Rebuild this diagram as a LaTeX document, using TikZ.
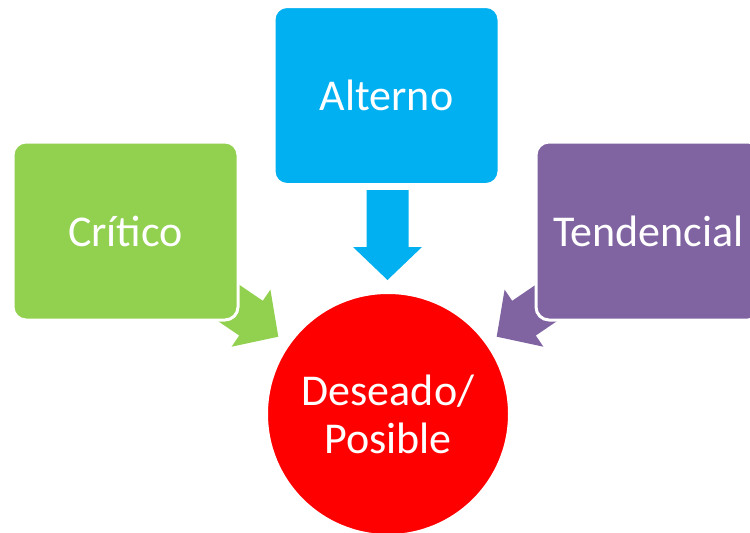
\documentclass[tikz,border=0pt]{standalone}
\usepackage{fontspec}
\setmainfont{Carlito}
\definecolor{cgreen}{HTML}{92D050}
\definecolor{cblue}{HTML}{00B0F0}
\definecolor{cpurple}{HTML}{8064A2}
\definecolor{cred}{HTML}{FF0000}
\begin{document}
\begin{tikzpicture}[x=1pt,y=-1pt,
  box/.style={draw=white, line width=3pt, rounded corners=13pt, minimum width=225pt, minimum height=178pt, inner sep=0pt, text=white, font=\fontsize{44}{48}\selectfont},
  blockarrow/.style={fill=#1, draw=none}]
\clip (0,0) rectangle (750,533);
\fill[white] (0,0) rectangle (750,533);
% arrows (drawn behind boxes)
\begin{scope}[shift={(387.5,280)}, rotate=-90]
  \coordinate (tipA) at (0,0);
  \fill[cblue] (tipA) -- (-33,34.5) -- (-33,21) -- (-90,21) -- (-90,-21) -- (-33,-21) -- (-33,-34.5) -- cycle;
\end{scope}
\begin{scope}[shift={(278.3,336.7)}, rotate=-34.2]
  \coordinate (tipC) at (0,0);
  \fill[cgreen] (tipC) -- (-33,34.5) -- (-33,21) -- (-90,21) -- (-90,-21) -- (-33,-21) -- (-33,-34.5) -- cycle;
\end{scope}
\begin{scope}[shift={(496.7,336.7)}, rotate=-145.8]
  \coordinate (tipT) at (0,0);
  \fill[cpurple] (tipT) -- (-33,34.5) -- (-33,21) -- (-90,21) -- (-90,-21) -- (-33,-21) -- (-33,-34.5) -- cycle;
\end{scope}
% boxes
\node[box, fill=cgreen] (critico) at (125.5,231) {Crítico};
\node[box, fill=cblue] (alterno) at (386.5,95.5) {Alterno};
\node[box, fill=cpurple] (tendencial) at (648.5,231) {Tendencial};
% circle
\node[circle, draw=white, line width=3pt, fill=cred, minimum size=243pt, inner sep=0pt, text=white, align=center, font=\fontsize{44}{48}\selectfont] (deseado) at (388,414) {Deseado/\\Posible};
\end{tikzpicture}
\end{document}
